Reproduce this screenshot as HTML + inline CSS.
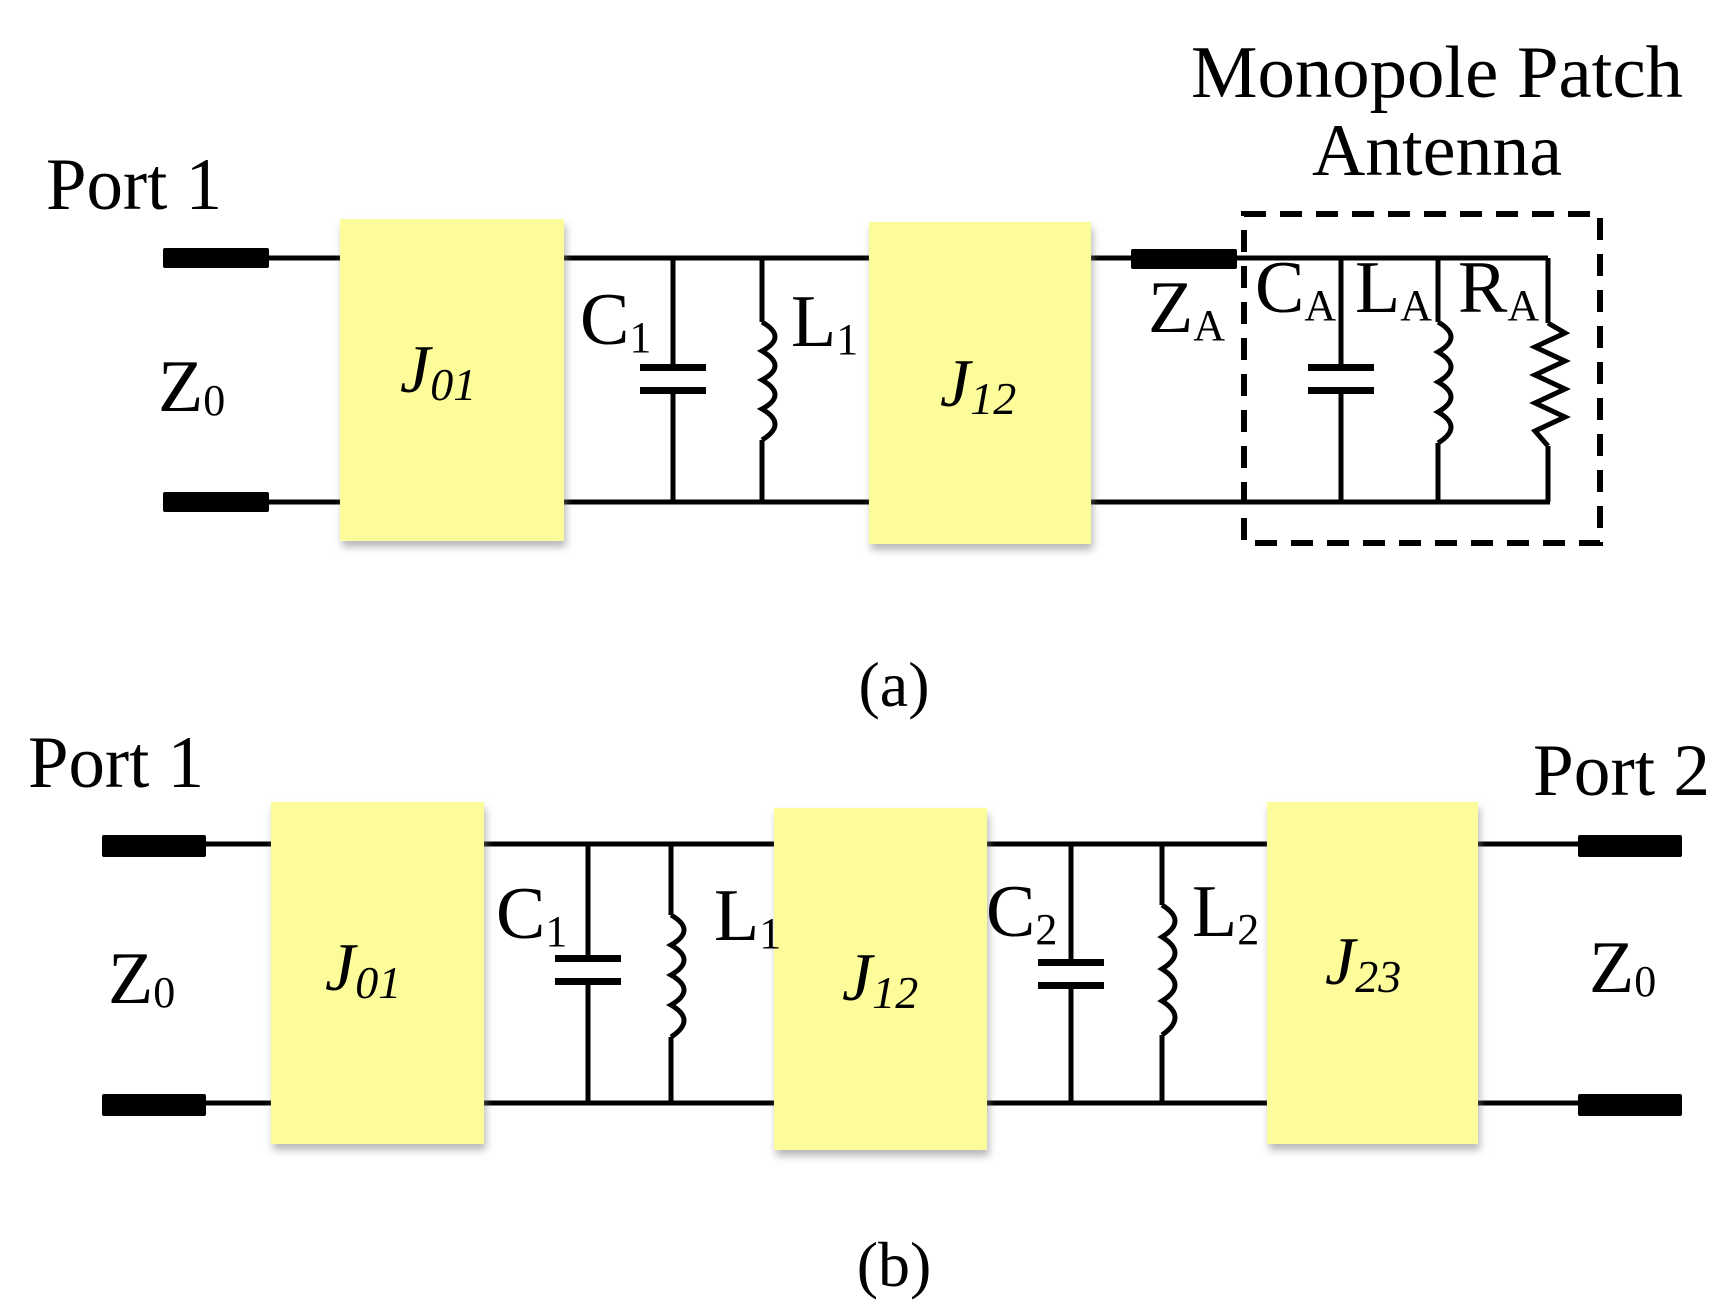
<!DOCTYPE html>
<html><head><meta charset="utf-8"><style>html,body{margin:0;padding:0;background:#fff}svg{display:block}</style></head>
<body>
<svg width="1733" height="1312" viewBox="0 0 1733 1312" xmlns="http://www.w3.org/2000/svg" font-family="'Liberation Serif', serif">
<defs>
<filter id="sh" x="-10%" y="-10%" width="130%" height="130%"><feDropShadow dx="2" dy="6" stdDeviation="4" flood-color="#888" flood-opacity="0.6"/></filter>
</defs>
<g stroke="#000" stroke-width="5" fill="none" stroke-linecap="butt">
<line x1="263" y1="258" x2="1548" y2="258"/>
<line x1="263" y1="502" x2="1550" y2="502"/>
<line x1="673" y1="258" x2="673" y2="367"/><line x1="673" y1="391" x2="673" y2="502"/>
<line x1="762" y1="258" x2="762" y2="322"/><line x1="762" y1="440" x2="762" y2="502"/>
<path d="M762 322 q26 15 0 29 q26 15 0 29 q26 15 0 29 q26 15 0 31"/>
<line x1="1341" y1="258" x2="1341" y2="367"/><line x1="1341" y1="391" x2="1341" y2="502"/>
<line x1="1438" y1="258" x2="1438" y2="322"/><line x1="1438" y1="443" x2="1438" y2="502"/>
<path d="M1438 322 q26 15 0 30 q26 15 0 30 q26 15 0 30 q26 15 0 31"/>
<line x1="1548" y1="258" x2="1548" y2="323"/><line x1="1548" y1="446" x2="1548" y2="502"/>
<path d="M1548 323 l17 10 l-30 14 l30 14 l-30 14 l30 14 l-30 14 l30 14 l-30 14 l13 15"/>
<rect x="1244" y="214" width="356" height="329" stroke-width="6" stroke-dasharray="22 14"/>
<line x1="200" y1="844" x2="1580" y2="844"/>
<line x1="200" y1="1103" x2="1580" y2="1103"/>
<line x1="588" y1="844" x2="588" y2="958"/><line x1="588" y1="982" x2="588" y2="1103"/>
<line x1="671" y1="844" x2="671" y2="915"/><line x1="671" y1="1037" x2="671" y2="1103"/>
<path d="M671 915 q26 15 0 30 q26 15 0 30 q26 15 0 30 q26 15 0 32"/>
<line x1="1071" y1="844" x2="1071" y2="962"/><line x1="1071" y1="986" x2="1071" y2="1103"/>
<line x1="1162" y1="844" x2="1162" y2="905"/><line x1="1162" y1="1035" x2="1162" y2="1103"/>
<path d="M1162 905 q26 16 0 32 q26 16 0 32 q26 16 0 32 q26 16 0 34"/>
</g>
<g fill="#000">
<rect x="163" y="248" width="106" height="20" rx="2"/>
<rect x="163" y="492" width="106" height="20" rx="2"/>
<rect x="1131" y="249" width="106" height="20" rx="2"/>
<rect x="640" y="364" width="66" height="7"/><rect x="640" y="387" width="66" height="7"/>
<rect x="1308" y="364" width="66" height="7"/><rect x="1308" y="387" width="66" height="7"/>
<rect x="102" y="835" width="104" height="22" rx="2"/>
<rect x="102" y="1094" width="104" height="22" rx="2"/>
<rect x="1578" y="835" width="104" height="22" rx="2"/>
<rect x="1578" y="1094" width="104" height="22" rx="2"/>
<rect x="555" y="955" width="66" height="7"/><rect x="555" y="978" width="66" height="7"/>
<rect x="1038" y="959" width="66" height="7"/><rect x="1038" y="982" width="66" height="7"/>
</g>
<g fill="#fdfc9a" filter="url(#sh)">
<rect x="340" y="219" width="224" height="322"/>
<rect x="869" y="222" width="222" height="322"/>
<rect x="271" y="802" width="213" height="342"/>
<rect x="774" y="808" width="213" height="342"/>
<rect x="1267" y="802" width="211" height="342"/>
</g>
<g font-size="74" fill="#000">
<text x="46" y="209" textLength="176" lengthAdjust="spacingAndGlyphs">Port 1</text>
<text x="28" y="787" textLength="176" lengthAdjust="spacingAndGlyphs">Port 1</text>
<text x="1533" y="795" textLength="177" lengthAdjust="spacingAndGlyphs">Port 2</text>
<text x="1437" y="97" text-anchor="middle" textLength="492" lengthAdjust="spacingAndGlyphs">Monopole Patch</text>
<text x="1437" y="175" text-anchor="middle" textLength="250" lengthAdjust="spacingAndGlyphs">Antenna</text>
<text x="158" y="411">Z<tspan font-size="44" dy="4">0</tspan></text>
<text x="108" y="1003">Z<tspan font-size="44" dy="4">0</tspan></text>
<text x="1589" y="992">Z<tspan font-size="44" dy="4">0</tspan></text>
<text x="580" y="344">C<tspan font-size="44" dy="8">1</tspan></text>
<text x="791" y="346">L<tspan font-size="44" dy="8">1</tspan></text>
<text x="1148" y="332">Z<tspan font-size="44" dy="8">A</tspan></text>
<text x="1255" y="312">C<tspan font-size="44" dy="8">A</tspan></text>
<text x="1355" y="312">L<tspan font-size="44" dy="8">A</tspan></text>
<text x="1458" y="312">R<tspan font-size="44" dy="8">A</tspan></text>
<text x="496" y="938">C<tspan font-size="44" dy="8">1</tspan></text>
<text x="714" y="940">L<tspan font-size="44" dy="8">1</tspan></text>
<text x="986" y="936">C<tspan font-size="44" dy="8">2</tspan></text>
<text x="1192" y="936">L<tspan font-size="44" dy="8">2</tspan></text>
<text x="894" y="706" text-anchor="middle" font-size="64">(a)</text>
<text x="894" y="1286" text-anchor="middle" font-size="64">(b)</text>
</g>
<g font-size="68" font-style="italic" fill="#000">
<text x="400" y="392">J<tspan font-size="46" dy="8">01</tspan></text>
<text x="940" y="406">J<tspan font-size="46" dy="8">12</tspan></text>
<text x="325" y="990">J<tspan font-size="46" dy="8">01</tspan></text>
<text x="842" y="1000">J<tspan font-size="46" dy="8">12</tspan></text>
<text x="1325" y="984">J<tspan font-size="46" dy="8">23</tspan></text>
</g>
</svg>
</body></html>
